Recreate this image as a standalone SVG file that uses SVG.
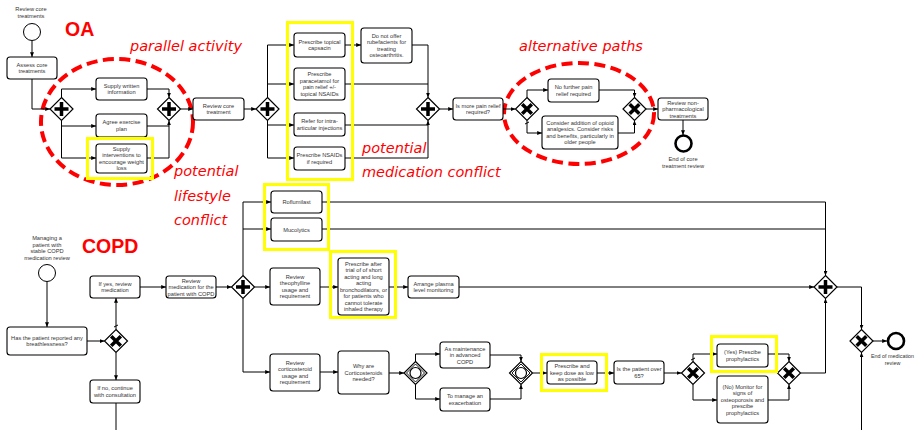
<svg xmlns="http://www.w3.org/2000/svg" xmlns:xlink="http://www.w3.org/1999/xlink" width="916" height="430" viewBox="0 0 916 430">
<style>
.b{fill:#fff;stroke:#000;stroke-width:1.1}
.t{font-family:"Liberation Sans",Arial,sans-serif;font-size:5.7px;fill:#333;text-anchor:middle}
.c{fill:none;stroke:#000;stroke-width:1}
.gw{fill:#fff;stroke:#000;stroke-width:1.2}
.pl{fill:none;stroke:#000;stroke-width:3.5}
.st{fill:#fff;stroke:#000;stroke-width:1}
.en{fill:#fff;stroke:#000;stroke-width:2.6}
.hl{fill:none;stroke:#ffff00;stroke-width:3}
.el{fill:none;stroke:#ff0000;stroke-width:4;stroke-dasharray:11 5.5}
.ri{font-family:"DejaVu Sans",Verdana,sans-serif;font-style:italic;font-size:14.5px;fill:#ff0000}
.rb{font-family:"Liberation Sans",Arial,sans-serif;font-weight:bold;font-size:19.5px;fill:#ff0000}
</style>
<defs>
<marker id="arr" viewBox="0 0 6 5" refX="6" refY="2.5" markerWidth="5" markerHeight="4" markerUnits="userSpaceOnUse" orient="auto"><path d="M0,0 L6,2.5 L0,5 Z" fill="#000"/></marker>
<g id="gAnd"><path d="M0,-11.5 L11.5,0 L0,11.5 L-11.5,0 Z" class="gw"/><path d="M-7,0 H7 M0,-7 V7" class="pl"/></g>
<g id="gXor"><path d="M0,-11.5 L11.5,0 L0,11.5 L-11.5,0 Z" class="gw"/><path d="M-4.8,-4.8 L4.8,4.8 M4.8,-4.8 L-4.8,4.8" class="pl"/></g>
<g id="gEv"><path d="M0,-11.5 L11.5,0 L0,11.5 L-11.5,0 Z" class="gw"/><path d="M0,-9 L9,0 L0,9 L-9,0 Z" fill="none" stroke="#000" stroke-width="0.9"/><circle r="5.5" fill="none" stroke="#000" stroke-width="1.2"/></g>
</defs>
<rect width="916" height="430" fill="#fff"/>

<!-- annotations -->
<g id="annotations">
<ellipse class="el" cx="117" cy="122" rx="76" ry="63"/>
<ellipse class="el" cx="579" cy="113.5" rx="75" ry="50.5"/>
<text class="rb" x="65" y="36">OA</text>
<text class="rb" x="82" y="253">COPD</text>
<text class="ri" x="130" y="51">parallel activity</text>
<text class="ri" x="519" y="51">alternative paths</text>
<text class="ri" x="362" y="152.5">potential</text>
<text class="ri" x="362" y="177">medication conflict</text>
<text class="ri" x="174" y="176">potential</text>
<text class="ri" x="174" y="201">lifestyle</text>
<text class="ri" x="174" y="225">conflict</text>
</g>

<!-- connectors -->
<g id="connectors">
<path class="c" marker-end="url(#arr)" d="M32,41 V57"/>
<path class="c" marker-end="url(#arr)" d="M32,79 V109 H50"/>
<path class="c" marker-end="url(#arr)" d="M61.5,97.5 V89 H96"/>
<path class="c" marker-end="url(#arr)" d="M61.5,120.5 V126 H96"/>
<path class="c" marker-end="url(#arr)" d="M61.5,126 V158 H96"/>
<path class="c" marker-end="url(#arr)" d="M147,89 H169 V97.5"/>
<path class="c" marker-end="url(#arr)" d="M147,126 H169 V120.5"/>
<path class="c" d="M147,158 H169 V126"/>
<path class="c" marker-end="url(#arr)" d="M180.5,109 H193"/>
<path class="c" marker-end="url(#arr)" d="M244,109 H256"/>
<path class="c" marker-end="url(#arr)" d="M267.5,97.5 V45 H294"/>
<path class="c" marker-end="url(#arr)" d="M267.5,84 H294"/>
<path class="c" marker-end="url(#arr)" d="M267.5,120.5 V125 H294"/>
<path class="c" marker-end="url(#arr)" d="M267.5,125 V158 H294"/>
<path class="c" marker-end="url(#arr)" d="M345,45 H361"/>
<path class="c" marker-end="url(#arr)" d="M412,45 H428 V97.5"/>
<path class="c" d="M345,84 H428"/>
<path class="c" marker-end="url(#arr)" d="M345,125 H428 V120.5"/>
<path class="c" d="M345,158 H428 V125"/>
<path class="c" marker-end="url(#arr)" d="M439.5,109 H453"/>
<path class="c" marker-end="url(#arr)" d="M503,109 H515.5"/>
<path class="c" marker-end="url(#arr)" d="M527,97.5 V90 H548"/>
<path class="c" marker-end="url(#arr)" d="M527,120.5 V133 H542"/>
<path class="c" d="M525,124 L529,122"/>
<path class="c" marker-end="url(#arr)" d="M599,90 H634.5 V97.5"/>
<path class="c" marker-end="url(#arr)" d="M618,133 H634.5 V120.5"/>
<path class="c" marker-end="url(#arr)" d="M646,109 H658"/>
<path class="c" marker-end="url(#arr)" d="M683,120 V135"/>

<path class="c" marker-end="url(#arr)" d="M47,281.5 V327"/>
<path class="c" marker-end="url(#arr)" d="M87,341 H104.5"/>
<path class="c" marker-end="url(#arr)" d="M116,329.5 V298"/>
<path class="c" d="M114,327 L118,325"/>
<path class="c" marker-end="url(#arr)" d="M116,352.5 V380"/>
<path class="c" d="M116,403 V430"/>
<path class="c" marker-end="url(#arr)" d="M140,287 H166"/>
<path class="c" marker-end="url(#arr)" d="M216,287 H231.5"/>
<path class="c" marker-end="url(#arr)" d="M243,275.5 V202 H271"/>
<path class="c" marker-end="url(#arr)" d="M243,229 H271"/>
<path class="c" marker-end="url(#arr)" d="M254.5,287 H270"/>
<path class="c" marker-end="url(#arr)" d="M243,298.5 V372 H270"/>
<path class="c" marker-end="url(#arr)" d="M322,202 H825.5 V275.5"/>
<path class="c" d="M322,229 H825.5"/>
<path class="c" marker-end="url(#arr)" d="M320,287 H338"/>
<path class="c" marker-end="url(#arr)" d="M389,287 H408"/>
<path class="c" marker-end="url(#arr)" d="M459,287 H814"/>
<path class="c" marker-end="url(#arr)" d="M320,372 H338"/>
<path class="c" marker-end="url(#arr)" d="M389,373 H404"/>
<path class="c" marker-end="url(#arr)" d="M415.5,361.5 V354 H440"/>
<path class="c" marker-end="url(#arr)" d="M415.5,384.5 V399 H440"/>
<path class="c" marker-end="url(#arr)" d="M490,355 H521 V361.5"/>
<path class="c" marker-end="url(#arr)" d="M490,399 H521 V384.5"/>
<path class="c" marker-end="url(#arr)" d="M532.5,373 H547"/>
<path class="c" marker-end="url(#arr)" d="M597,373 H614"/>
<path class="c" marker-end="url(#arr)" d="M664,373 H681.5"/>
<path class="c" marker-end="url(#arr)" d="M693,361.5 V354 H717"/>
<path class="c" d="M691,360 L695,358"/>
<path class="c" marker-end="url(#arr)" d="M693,384.5 V400 H717"/>
<path class="c" marker-end="url(#arr)" d="M768,354 H789 V361.5"/>
<path class="c" marker-end="url(#arr)" d="M768,400 H789 V384.5"/>
<path class="c" marker-end="url(#arr)" d="M800.5,373 H825.5 V298.5"/>
<path class="c" marker-end="url(#arr)" d="M837,287 H861.5 V329.5"/>
<path class="c" marker-end="url(#arr)" d="M861.5,430 V352.5"/>
<path class="c" marker-end="url(#arr)" d="M873,341 H887"/>
</g>

<!-- OA nodes -->
<g id="oa_start"><circle class="st" cx="32" cy="32" r="8.5"/><text class="t" x="31" y="11">Review core</text><text class="t" x="31" y="17.5">treatments</text></g>
<g id="oa_assess"><rect class="b" x="7" y="57" width="50" height="22" rx="3"/><text class="t" x="32" y="66.8">Assess core</text><text class="t" x="32" y="73.3">treatments</text></g>
<g id="oa_gw1"><use xlink:href="#gAnd" x="61.5" y="109"/></g>
<g id="oa_written"><rect class="b" x="96" y="78" width="51" height="22" rx="3"/><text class="t" x="121.5" y="87.8">Supply written</text><text class="t" x="121.5" y="94.3">information</text></g>
<g id="oa_exercise"><rect class="b" x="96" y="114" width="51" height="23" rx="3"/><text class="t" x="121.5" y="124.3">Agree exercise</text><text class="t" x="121.5" y="130.8">plan</text></g>
<g id="oa_weight"><rect class="b" x="96" y="144" width="51" height="29" rx="3"/><text class="t" x="121.5" y="150.8">Supply</text><text class="t" x="121.5" y="157.3">interventions to</text><text class="t" x="121.5" y="163.8">encourage weight</text><text class="t" x="121.5" y="170.3">loss</text></g>
<g id="oa_gw2"><use xlink:href="#gAnd" x="169" y="109"/></g>
<g id="oa_review"><rect class="b" x="193" y="98" width="51" height="22" rx="3"/><text class="t" x="218.5" y="107.8">Review core</text><text class="t" x="218.5" y="114.3">treatment</text></g>
<g id="oa_gw3"><use xlink:href="#gAnd" x="267.5" y="109"/></g>
<g id="oa_capsacin"><rect class="b" x="294" y="33" width="51" height="24" rx="3"/><text class="t" x="319.5" y="43.8">Prescribe topical</text><text class="t" x="319.5" y="50.3">capsacin</text></g>
<g id="oa_paracetamol"><rect class="b" x="294" y="68" width="51" height="32" rx="3"/><text class="t" x="319.5" y="76.3">Prescribe</text><text class="t" x="319.5" y="82.8">paracetamol for</text><text class="t" x="319.5" y="89.3">pain relief +/-</text><text class="t" x="319.5" y="95.8">topical NSAIDs</text></g>
<g id="oa_refer"><rect class="b" x="294" y="113" width="51" height="23" rx="3"/><text class="t" x="319.5" y="123.3">Refer for intra-</text><text class="t" x="319.5" y="129.8">articular injections</text></g>
<g id="oa_nsaids"><rect class="b" x="294" y="147" width="51" height="23" rx="3"/><text class="t" x="319.5" y="157.3">Prescribe NSAIDs</text><text class="t" x="319.5" y="163.8">if required</text></g>
<g id="oa_rubefacients"><rect class="b" x="361" y="28" width="51" height="35" rx="3"/><text class="t" x="386.5" y="37.8">Do not offer</text><text class="t" x="386.5" y="44.3">rubefacients for</text><text class="t" x="386.5" y="50.8">treating</text><text class="t" x="386.5" y="57.3">osteoarthritis.</text></g>
<g id="oa_gw4"><use xlink:href="#gAnd" x="428" y="109"/></g>
<g id="oa_more"><rect class="b" x="453" y="98" width="50" height="22" rx="3"/><text class="t" x="478" y="107.8">Is more pain relief</text><text class="t" x="478" y="114.3">required?</text></g>
<g id="oa_xor1"><use xlink:href="#gXor" x="527" y="109"/></g>
<g id="oa_nofurther"><rect class="b" x="548" y="79" width="51" height="23" rx="3"/><text class="t" x="573.5" y="89.3">No further pain</text><text class="t" x="573.5" y="95.8">relief required</text></g>
<g id="oa_opioid"><rect class="b" x="542" y="116" width="76" height="33" rx="3"/><text class="t" x="580" y="124.8">Consider addition of opioid</text><text class="t" x="580" y="131.3">analgesics. Consider risks</text><text class="t" x="580" y="137.8">and benefits, particularly in</text><text class="t" x="580" y="144.3">older people</text></g>
<g id="oa_xor2"><use xlink:href="#gXor" x="634.5" y="109"/></g>
<g id="oa_nonpharm"><rect class="b" x="658" y="98" width="50" height="22" rx="3"/><text class="t" x="683" y="104.5">Review non-</text><text class="t" x="683" y="111">pharmacological</text><text class="t" x="683" y="117.5">treatments</text></g>
<g id="oa_end"><circle class="en" cx="683.5" cy="143.5" r="8"/><text class="t" x="683" y="161">End of core</text><text class="t" x="683" y="167.5">treatment review</text></g>

<!-- COPD nodes -->
<g id="copd_start"><circle class="st" cx="47" cy="273" r="8.5"/><text class="t" x="47" y="240">Managing a</text><text class="t" x="47" y="246.5">patient with</text><text class="t" x="47" y="253">stable COPD</text><text class="t" x="47" y="259.5">medication review</text></g>
<g id="copd_breath"><rect class="b" x="7" y="327" width="80" height="28" rx="3"/><text class="t" x="47" y="339.8">Has the patient reported any</text><text class="t" x="47" y="346.3">breathlessness?</text></g>
<g id="copd_xor1"><use xlink:href="#gXor" x="116" y="341"/></g>
<g id="copd_ifyes"><rect class="b" x="90" y="276" width="50" height="22" rx="3"/><text class="t" x="115" y="285.8">If yes, review</text><text class="t" x="115" y="292.3">medication</text></g>
<g id="copd_ifno"><rect class="b" x="90" y="380" width="50" height="23" rx="3"/><text class="t" x="115" y="390.3">If no, continue</text><text class="t" x="115" y="396.8">with consultation</text></g>
<g id="copd_reviewmed"><rect class="b" x="166" y="276" width="50" height="22" rx="3"/><text class="t" x="191" y="282.5">Review</text><text class="t" x="191" y="289">medication for the</text><text class="t" x="191" y="295.5">patient with COPD</text></g>
<g id="copd_gw1"><use xlink:href="#gAnd" x="243" y="287"/></g>
<g id="copd_roflumilast"><rect class="b" x="271" y="191" width="51" height="22" rx="3"/><text class="t" x="296.5" y="204">Roflumilast</text></g>
<g id="copd_mucolytics"><rect class="b" x="271" y="218" width="51" height="23" rx="3"/><text class="t" x="296.5" y="231.5">Mucolytics</text></g>
<g id="copd_theophylline"><rect class="b" x="270" y="268" width="50" height="37" rx="3"/><text class="t" x="295" y="278.8">Review</text><text class="t" x="295" y="285.3">theophylline</text><text class="t" x="295" y="291.8">usage and</text><text class="t" x="295" y="298.3">requirement</text></g>
<g id="copd_prescribeafter"><rect class="b" x="338" y="258" width="51" height="57" rx="3"/><text class="t" x="363.5" y="265.8">Prescribe after</text><text class="t" x="363.5" y="272.3">trial of of short</text><text class="t" x="363.5" y="278.8">acting and long</text><text class="t" x="363.5" y="285.3">acting</text><text class="t" x="363.5" y="291.8">bronchodilators, or</text><text class="t" x="363.5" y="298.3">for patients who</text><text class="t" x="363.5" y="304.8">cannot tolerate</text><text class="t" x="363.5" y="311.3">inhaled therapy</text></g>
<g id="copd_plasma"><rect class="b" x="408" y="276" width="51" height="22" rx="3"/><text class="t" x="433.5" y="285.8">Arrange plasma</text><text class="t" x="433.5" y="292.3">level monitoring</text></g>
<g id="copd_cortico"><rect class="b" x="270" y="354" width="50" height="37" rx="3"/><text class="t" x="295" y="364.8">Review</text><text class="t" x="295" y="371.3">corticosteroid</text><text class="t" x="295" y="377.8">usage and</text><text class="t" x="295" y="384.3">requirement</text></g>
<g id="copd_why"><rect class="b" x="338" y="351" width="51" height="43" rx="3"/><text class="t" x="363.5" y="368">Why are</text><text class="t" x="363.5" y="374.5">Corticosteroids</text><text class="t" x="363.5" y="381">needed?</text></g>
<g id="copd_ev1"><use xlink:href="#gEv" x="415.5" y="373"/></g>
<g id="copd_maint"><rect class="b" x="440" y="342" width="50" height="26" rx="3"/><text class="t" x="465" y="350.5">As maintenance</text><text class="t" x="465" y="357">in advanced</text><text class="t" x="465" y="363.5">COPD</text></g>
<g id="copd_exacerb"><rect class="b" x="440" y="388" width="50" height="23" rx="3"/><text class="t" x="465" y="398.3">To manage an</text><text class="t" x="465" y="404.8">exacerbation</text></g>
<g id="copd_ev2"><use xlink:href="#gEv" x="521" y="373"/></g>
<g id="copd_lowdose"><rect class="b" x="547" y="361" width="50" height="23" rx="3"/><text class="t" x="572" y="368">Prescribe and</text><text class="t" x="572" y="374.5">keep dose as low</text><text class="t" x="572" y="381">as possible</text></g>
<g id="copd_over65"><rect class="b" x="614" y="361" width="50" height="23" rx="3"/><text class="t" x="639" y="371.3">Is the patient over</text><text class="t" x="639" y="377.8">65?</text></g>
<g id="copd_xor2"><use xlink:href="#gXor" x="693" y="373"/></g>
<g id="copd_yes"><rect class="b" x="717" y="344" width="51" height="23" rx="3"/><text class="t" x="742.5" y="354.3">(Yes) Prescibe</text><text class="t" x="742.5" y="360.8">prophylactics</text></g>
<g id="copd_no"><rect class="b" x="717" y="376" width="51" height="47" rx="3"/><text class="t" x="742.5" y="388.5">(No) Monitor for</text><text class="t" x="742.5" y="395">signs of</text><text class="t" x="742.5" y="401.5">osteoporosis and</text><text class="t" x="742.5" y="408">prescibe</text><text class="t" x="742.5" y="414.5">prophylactics</text></g>
<g id="copd_xor3"><use xlink:href="#gXor" x="789" y="373"/></g>
<g id="copd_gw2"><use xlink:href="#gAnd" x="825.5" y="287"/></g>
<g id="copd_xor4"><use xlink:href="#gXor" x="861.5" y="341"/></g>
<g id="copd_end"><circle class="en" cx="896" cy="341" r="8"/><text class="t" x="892.5" y="358" style="font-size:5.4px">End of medication</text><text class="t" x="892.5" y="364.5" style="font-size:5.4px">review</text></g>

<!-- highlights -->
<g id="highlights">
<rect class="hl" x="87.5" y="138.5" width="65" height="40"/>
<rect class="hl" x="287.5" y="22.5" width="65" height="157"/>
<rect class="hl" x="264.5" y="184.5" width="64" height="65"/>
<rect class="hl" x="330.5" y="251.5" width="65" height="66"/>
<rect class="hl" x="541.5" y="354.5" width="65" height="36"/>
<rect class="hl" x="711.5" y="336.5" width="65" height="35"/>
</g>
</svg>
